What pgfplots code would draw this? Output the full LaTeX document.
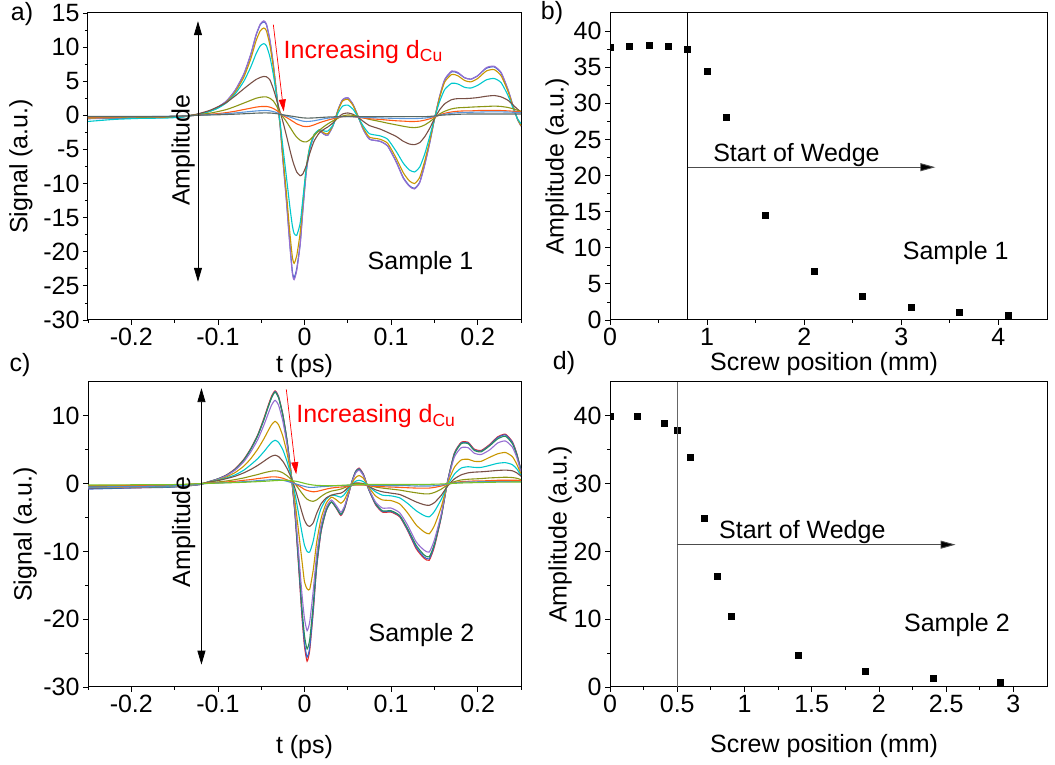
\documentclass[border=0pt]{standalone}
\usepackage{fontspec}
\setmainfont{Liberation Sans}
\setsansfont{Liberation Sans}
\usepackage{pgfplots}
\usepackage{pgfplotstable}
\pgfplotsset{compat=1.18}
\usetikzlibrary{arrows.meta}

\definecolor{cPu}{RGB}{150,110,210}
\definecolor{cBl}{RGB}{60,100,200}
\definecolor{cGo}{RGB}{200,150,0}
\definecolor{cCy}{RGB}{0,200,205}
\definecolor{cBr}{RGB}{120,80,70}
\definecolor{cOl}{RGB}{140,150,20}
\definecolor{cOr}{RGB}{255,90,20}
\definecolor{cLb}{RGB}{90,150,220}
\definecolor{cGr}{RGB}{90,105,100}
\definecolor{cRd}{RGB}{230,40,40}
\definecolor{cGn}{RGB}{40,140,90}
\definecolor{cYg}{RGB}{120,195,40}
\definecolor{cSt}{RGB}{80,140,210}

% ---------------- panel a data (sample 1 waveforms) ----------------
\pgfplotstableset{
 create on use/ta/.style={create col/set list={-0.25,-0.22,-0.19,-0.16,-0.14,-0.125,-0.11,-0.10,-0.09,-0.08,
  -0.07,-0.062,-0.056,-0.051,-0.047,-0.044,-0.040,-0.036,-0.032,-0.028,
  -0.025,-0.021,-0.017,-0.014,-0.012,-0.009,-0.005,-0.002,0.002,0.006,
  0.011,0.017,0.023,0.027,0.033,0.039,0.044,0.050,0.056,0.062,
  0.068,0.075,0.087,0.096,0.106,0.114,0.121,0.127,0.133,0.139,
  0.145,0.150,0.156,0.162,0.170,0.177,0.185,0.192,0.200,0.210,
  0.219,0.227,0.235,0.241,0.246,0.250}},
 create on use/apu/.style={create col/set list={-0.45,-0.4,-0.35,-0.3,-0.2,0.1,0.6,1.2,2.1,3.7,
  6.1,9.0,11.8,13.4,13.85,13.4,11.1,7.5,3.0,-1.8,
  -6.5,-12.4,-19.0,-23.2,-24.1,-22.8,-19.0,-14.2,-8.4,-5.0,
  -3.0,-2.3,-2.8,-2.9,-1.5,0.9,2.3,2.6,1.6,-0.2,
  -2.1,-3.5,-3.8,-4.5,-6.9,-9.2,-10.4,-10.8,-9.9,-7.2,
  -3.8,-0.6,2.8,5.3,6.5,6.3,5.5,5.3,5.8,7.0,
  7.2,6.3,3.8,1.3,-0.6,-1.6}},
 create on use/abl/.style={create col/set list={-0.5,-0.45,-0.4,-0.3,-0.2,0.1,0.6,1.2,2.1,3.65,
  6.0,8.9,11.7,13.3,13.7,13.3,11.0,7.4,3.0,-1.7,
  -6.4,-12.2,-18.7,-22.9,-23.8,-22.5,-18.8,-14.0,-8.3,-5.0,
  -3.0,-2.3,-2.8,-2.9,-1.5,0.9,2.3,2.55,1.6,-0.2,
  -2.1,-3.5,-3.8,-4.5,-6.8,-9.1,-10.3,-10.7,-9.8,-7.1,
  -3.8,-0.6,2.7,5.2,6.4,6.2,5.5,5.3,5.8,6.9,
  7.1,6.2,3.7,1.3,-0.6,-1.5}},
 create on use/ago/.style={create col/set list={-0.4,-0.35,-0.3,-0.3,-0.2,0.1,0.55,1.1,1.95,3.4,
  5.6,8.3,10.9,12.4,12.8,12.4,10.3,7.0,2.8,-1.6,
  -5.9,-11.2,-17.1,-20.8,-21.7,-20.6,-17.2,-12.9,-7.7,-4.6,
  -2.8,-2.2,-2.6,-2.7,-1.4,0.8,2.1,2.35,1.45,-0.2,
  -1.9,-3.2,-3.5,-4.1,-6.3,-8.4,-9.6,-10.0,-9.1,-6.6,
  -3.5,-0.55,2.6,4.9,6.0,5.8,5.1,4.9,5.4,6.5,
  6.7,5.8,3.5,1.2,-0.55,-1.5}},
 create on use/acy/.style={create col/set list={-0.9,-0.6,-0.45,-0.4,-0.25,0.1,0.55,1.05,1.85,3.15,
  5.0,7.1,9.0,10.2,10.5,10.2,8.6,6.0,2.6,-1.2,
  -4.6,-8.9,-13.3,-16.2,-17.3,-17.6,-15.8,-12.4,-7.8,-4.8,
  -2.9,-2.1,-2.3,-2.3,-1.4,0.4,1.35,1.5,0.9,-0.3,
  -1.6,-2.7,-3.0,-3.5,-5.3,-7.0,-8.0,-8.3,-7.6,-5.6,
  -2.9,-0.5,2.0,3.8,4.7,4.6,4.1,4.0,4.4,5.2,
  5.4,4.8,2.9,1.0,-0.5,-1.2}},
 create on use/abr/.style={create col/set list={-0.3,-0.3,-0.25,-0.2,-0.1,0.15,0.7,1.25,1.9,2.85,
  3.9,4.7,5.25,5.55,5.7,5.65,5.2,3.9,2.2,0.4,
  -0.9,-2.9,-5.0,-6.5,-7.3,-8.3,-8.85,-8.6,-7.4,-5.6,
  -3.8,-2.6,-2.0,-1.7,-1.1,-0.3,0.2,0.35,0.15,-0.3,
  -0.9,-1.5,-2.0,-2.5,-3.1,-3.8,-4.2,-4.3,-4.0,-3.1,
  -1.8,-0.5,0.8,1.7,2.3,2.45,2.45,2.5,2.6,2.8,
  2.9,2.7,2.2,1.5,0.9,0.5}},
 create on use/aol/.style={create col/set list={-0.3,-0.3,-0.25,-0.2,-0.1,0.05,0.3,0.55,0.85,1.3,
  1.8,2.2,2.5,2.65,2.7,2.7,2.5,2.1,1.3,0.3,
  -0.2,-0.9,-1.7,-2.3,-2.7,-3.2,-3.65,-3.85,-3.9,-3.6,
  -3.0,-2.2,-1.6,-1.25,-0.8,-0.4,-0.1,0.05,0.0,-0.15,
  -0.35,-0.6,-0.9,-1.15,-1.4,-1.6,-1.75,-1.8,-1.7,-1.4,
  -0.9,-0.4,0.2,0.6,0.95,1.1,1.15,1.2,1.25,1.3,
  1.35,1.3,1.15,0.95,0.75,0.6}},
 create on use/aor/.style={create col/set list={-0.25,-0.25,-0.2,-0.2,-0.1,0.0,0.15,0.25,0.4,0.6,
  0.85,1.05,1.2,1.28,1.3,1.3,1.2,1.0,0.7,0.3,
  0.0,-0.3,-0.6,-0.85,-1.0,-1.25,-1.45,-1.6,-1.65,-1.6,
  -1.4,-1.1,-0.85,-0.7,-0.5,-0.3,-0.2,-0.15,-0.2,-0.3,
  -0.4,-0.5,-0.6,-0.7,-0.8,-0.85,-0.9,-0.9,-0.85,-0.7,
  -0.5,-0.25,0.05,0.3,0.5,0.6,0.65,0.65,0.7,0.7,
  0.7,0.7,0.65,0.6,0.55,0.5}},
 create on use/alb/.style={create col/set list={-0.2,-0.2,-0.2,-0.15,-0.1,0.0,0.1,0.15,0.25,0.35,
  0.47,0.57,0.64,0.68,0.7,0.7,0.66,0.55,0.4,0.2,
  0.05,-0.1,-0.25,-0.38,-0.47,-0.6,-0.75,-0.85,-0.9,-0.88,
  -0.8,-0.65,-0.5,-0.42,-0.33,-0.25,-0.2,-0.2,-0.2,-0.25,
  -0.3,-0.33,-0.38,-0.42,-0.45,-0.47,-0.48,-0.48,-0.45,-0.4,
  -0.3,-0.15,0.0,0.15,0.3,0.38,0.42,0.45,0.47,0.5,
  0.5,0.5,0.48,0.45,0.42,0.4}},
 create on use/agr/.style={create col/set list={-0.15,-0.15,-0.15,-0.15,-0.1,0.0,0.05,0.08,0.12,0.17,
  0.23,0.28,0.32,0.34,0.35,0.35,0.34,0.3,0.24,0.15,
  0.08,0.0,-0.08,-0.14,-0.18,-0.24,-0.32,-0.37,-0.4,-0.4,
  -0.38,-0.33,-0.28,-0.25,-0.22,-0.2,-0.2,-0.2,-0.2,-0.2,
  -0.2,-0.2,-0.2,-0.2,-0.2,-0.2,-0.2,-0.2,-0.2,-0.2,
  -0.15,-0.1,0.0,0.05,0.1,0.15,0.18,0.2,0.2,0.2,
  0.2,0.2,0.2,0.2,0.2,0.2}},
}
\pgfplotstablenew[columns={ta,apu,abl,ago,acy,abr,aol,aor,alb,agr}]{66}\taba

% ---------------- panel c data (sample 2 waveforms) ----------------
\pgfplotstableset{
 create on use/tc/.style={create col/set list={-0.25,-0.22,-0.19,-0.16,-0.14,-0.12,-0.11,-0.10,-0.09,-0.08,
  -0.07,-0.062,-0.054,-0.047,-0.042,-0.038,-0.034,-0.030,-0.025,-0.020,
  -0.015,-0.011,-0.007,-0.003,0.000,0.003,0.006,0.010,0.014,0.019,
  0.025,0.031,0.037,0.042,0.046,0.050,0.055,0.059,0.063,0.068,
  0.074,0.082,0.090,0.100,0.110,0.119,0.129,0.138,0.144,0.150,
  0.158,0.165,0.173,0.181,0.189,0.196,0.204,0.214,0.223,0.232,
  0.240,0.245,0.250}},
 create on use/crd/.style={create col/set list={-0.7,-0.65,-0.6,-0.5,-0.4,-0.1,0.3,0.7,1.3,2.2,
  3.6,5.2,7.2,9.6,11.5,12.9,13.7,12.9,10.2,6.2,
  0.9,-4.5,-11.8,-19.5,-24.0,-26.2,-24.6,-19.0,-12.4,-7.2,
  -4.0,-2.7,-3.7,-4.7,-3.8,-2.0,0.4,1.8,2.3,1.4,
  -0.8,-3.1,-4.2,-4.2,-4.9,-6.9,-9.6,-11.0,-11.3,-9.3,
  -4.9,0.2,4.5,6.1,6.1,5.1,4.9,5.8,6.9,7.3,
  6.2,4.5,2.0}},
 create on use/cbu/.style={create col/set list={-0.8,-0.7,-0.6,-0.55,-0.4,-0.1,0.3,0.7,1.25,2.15,
  3.5,5.1,7.1,9.4,11.3,12.7,13.6,12.8,10.1,6.2,
  1.0,-4.3,-11.5,-19.0,-23.5,-25.6,-24.2,-18.8,-12.3,-7.1,
  -4.0,-2.7,-3.6,-4.6,-3.7,-1.9,0.4,1.8,2.2,1.35,
  -0.8,-3.0,-4.1,-4.1,-4.8,-6.8,-9.4,-10.8,-11.1,-9.1,
  -4.8,0.2,4.4,6.0,6.0,5.0,4.8,5.7,6.8,7.2,
  6.1,4.4,2.0}},
 create on use/cgn/.style={create col/set list={-0.6,-0.6,-0.55,-0.5,-0.35,-0.1,0.3,0.7,1.25,2.1,
  3.5,5.1,7.1,9.4,11.3,12.7,13.5,12.7,10.1,6.2,
  1.0,-4.1,-11.0,-18.2,-22.4,-24.4,-23.0,-17.9,-11.7,-6.9,
  -3.9,-2.7,-3.6,-4.5,-3.6,-1.9,0.4,1.7,2.1,1.3,
  -0.8,-2.9,-4.0,-4.0,-4.7,-6.6,-9.1,-10.5,-10.8,-8.9,
  -4.7,0.2,4.3,5.9,5.9,4.9,4.7,5.6,6.6,7.0,
  5.9,4.3,1.9}},
 create on use/cpu/.style={create col/set list={-0.6,-0.55,-0.5,-0.45,-0.35,-0.1,0.3,0.65,1.2,2.0,
  3.25,4.7,6.5,8.6,10.3,11.6,12.3,11.6,9.2,5.6,
  0.9,-3.7,-9.8,-16.2,-19.9,-21.7,-20.4,-15.9,-10.5,-6.2,
  -3.5,-2.4,-3.3,-4.2,-3.4,-1.8,0.3,1.55,2.0,1.2,
  -0.7,-2.7,-3.6,-3.6,-4.3,-6.1,-8.6,-9.8,-10.1,-8.3,
  -4.4,0.1,3.9,5.3,5.3,4.5,4.3,5.0,6.0,6.3,
  5.4,3.9,1.7}},
 create on use/cgo/.style={create col/set list={-0.5,-0.5,-0.45,-0.4,-0.3,-0.05,0.25,0.55,1.0,1.65,
  2.6,3.7,5.1,6.6,7.8,8.7,9.2,8.7,7.0,4.4,
  1.0,-2.6,-6.9,-11.3,-14.5,-15.5,-15.6,-12.8,-8.7,-5.2,
  -2.9,-2.0,-2.4,-2.9,-2.4,-1.3,0.1,0.9,1.2,0.8,
  -0.5,-1.8,-2.4,-2.5,-3.0,-4.3,-6.1,-7.1,-7.4,-6.2,
  -3.4,-0.1,2.4,3.5,3.6,3.3,3.3,3.9,4.4,4.6,
  4.0,2.9,1.4}},
 create on use/ccy/.style={create col/set list={-0.45,-0.4,-0.4,-0.35,-0.25,0.0,0.25,0.5,0.85,1.3,
  2.0,2.8,3.7,4.7,5.5,6.1,6.4,6.1,5.0,3.2,
  0.9,-1.5,-4.3,-7.2,-9.1,-10.0,-10.1,-8.5,-5.9,-3.7,
  -2.3,-1.7,-1.8,-2.0,-1.6,-0.9,-0.1,0.35,0.5,0.3,
  -0.4,-1.2,-1.7,-1.8,-2.1,-2.9,-4.0,-4.7,-4.9,-4.1,
  -2.3,-0.3,1.4,2.3,2.5,2.4,2.4,2.7,3.0,3.1,
  2.8,2.2,1.2}},
 create on use/cbr/.style={create col/set list={-0.4,-0.4,-0.35,-0.3,-0.2,0.0,0.25,0.45,0.75,1.1,
  1.6,2.1,2.7,3.3,3.75,4.05,4.2,4.0,3.3,2.2,
  0.8,-0.7,-2.4,-4.2,-5.4,-6.1,-6.3,-5.8,-4.4,-3.0,
  -2.1,-1.7,-1.5,-1.4,-1.1,-0.6,-0.1,0.1,0.1,0.0,
  -0.4,-0.9,-1.2,-1.4,-1.6,-2.1,-2.7,-3.1,-3.2,-2.8,
  -1.7,-0.4,0.7,1.3,1.6,1.7,1.75,1.85,1.95,2.0,
  1.9,1.6,1.1}},
 create on use/col/.style={create col/set list={-0.3,-0.3,-0.25,-0.25,-0.15,0.0,0.15,0.25,0.4,0.6,
  0.85,1.1,1.35,1.6,1.75,1.85,1.9,1.85,1.6,1.15,
  0.6,0.0,-0.7,-1.4,-1.9,-2.3,-2.5,-2.6,-2.4,-1.9,
  -1.4,-1.1,-0.95,-0.8,-0.6,-0.4,-0.15,0.0,0.0,-0.05,
  -0.25,-0.5,-0.65,-0.8,-0.95,-1.15,-1.35,-1.5,-1.5,-1.3,
  -0.8,-0.2,0.3,0.55,0.65,0.7,0.75,0.85,0.9,0.95,
  0.9,0.8,0.6}},
 create on use/cor/.style={create col/set list={-0.3,-0.25,-0.25,-0.2,-0.15,0.0,0.1,0.15,0.25,0.35,
  0.5,0.6,0.75,0.85,0.95,1.0,1.0,0.95,0.8,0.55,
  0.25,0.0,-0.3,-0.6,-0.85,-1.0,-1.1,-1.2,-1.15,-1.0,
  -0.8,-0.65,-0.55,-0.5,-0.45,-0.35,-0.25,-0.2,-0.2,-0.2,
  -0.3,-0.4,-0.45,-0.5,-0.55,-0.6,-0.65,-0.65,-0.65,-0.55,
  -0.35,-0.1,0.15,0.3,0.35,0.4,0.4,0.45,0.5,0.5,
  0.5,0.5,0.45}},
 create on use/cst/.style={create col/set list={-0.5,-0.45,-0.4,-0.35,-0.25,-0.05,0.05,0.1,0.15,0.2,
  0.3,0.35,0.45,0.5,0.55,0.6,0.6,0.6,0.5,0.35,
  0.15,0.0,-0.15,-0.3,-0.4,-0.5,-0.55,-0.55,-0.5,-0.45,
  -0.4,-0.35,-0.3,-0.3,-0.3,-0.25,-0.2,-0.15,-0.15,-0.15,
  -0.2,-0.25,-0.25,-0.3,-0.3,-0.3,-0.35,-0.35,-0.35,-0.3,
  -0.2,-0.05,0.1,0.2,0.25,0.25,0.3,0.3,0.3,0.3,
  0.3,0.3,0.3}},
 create on use/cyg/.style={create col/set list={-0.2,-0.2,-0.15,-0.15,-0.1,0.0,0.05,0.08,0.12,0.16,
  0.2,0.25,0.3,0.35,0.38,0.42,0.45,0.48,0.5,0.5,
  0.45,0.38,0.28,0.15,0.05,-0.05,-0.12,-0.2,-0.25,-0.28,
  -0.3,-0.3,-0.28,-0.25,-0.22,-0.2,-0.18,-0.15,-0.13,-0.12,
  -0.12,-0.12,-0.12,-0.12,-0.12,-0.12,-0.12,-0.12,-0.1,-0.08,
  -0.05,0.0,0.05,0.1,0.12,0.15,0.17,0.2,0.22,0.23,
  0.24,0.25,0.25}},
}
\pgfplotstablenew[columns={tc,crd,cbu,cgn,cpu,cgo,ccy,cbr,col,cor,cst,cyg}]{63}\tabc

% ---------------- amplitude vs screw position ----------------
\pgfplotstableread{
x y
0   37.7
0.2 37.97
0.4 38.0
0.6 37.9
0.8 37.55
1.0 34.46
1.2 28.14
1.6 14.53
2.1 6.69
2.6 3.28
3.1 1.75
3.6 1.06
4.1 0.65
}\tabb
\pgfplotstableread{
x y
0   40.0
0.2 39.9
0.4 38.9
0.5 37.85
0.6 33.9
0.7 24.9
0.8 16.4
0.9 10.46
1.4 4.65
1.9 2.4
2.4 1.27
2.9 0.78
}\tabd

\newcommand{\bigf}{\fontsize{25}{30}\selectfont}

\pgfplotsset{
 myax/.style={
  scale only axis, anchor=south west,
  axis line style={line width=1pt, black},
  tick align=outside, xtick pos=bottom, ytick pos=left,
  major tick length=5pt, minor tick length=3pt,
  every tick/.style={line width=0.8pt, black},
  tick label style={font=\bigf},
  label style={font=\bigf},
  /pgf/number format/assume math mode=true,
  clip marker paths=true,
 },
 wave/.style={no marks, line width=1.1pt, smooth, tension=0.35},
}

\begin{document}
\begin{tikzpicture}[x=1pt,y=1pt]
\path[use as bounding box] (0,0) rectangle (1055,765);

% ===== a) =====
\begin{axis}[myax, at={(88pt,445pt)}, width=433pt, height=307pt,
  xmin=-0.25, xmax=0.25, ymin=-30, ymax=15,
  xtick={-0.2,-0.1,0,0.1,0.2}, minor xtick={-0.25,-0.15,-0.05,0.05,0.15,0.25},
  ytick={-30,-25,...,15}, minor y tick num=1,
  xlabel={t (ps)}, ylabel={Signal (a.u.)},
  xlabel style={at={(axis description cs:0.5,-0.15)}, anchor=center},
  ylabel style={at={(axis description cs:-0.155,0.5)}, anchor=center},
]
\addplot[wave, cBl] table[x=ta,y=abl]{\taba};
\addplot[wave, cPu] table[x=ta,y=apu]{\taba};
\addplot[wave, cGo] table[x=ta,y=ago]{\taba};
\addplot[wave, cCy] table[x=ta,y=acy]{\taba};
\addplot[wave, cBr] table[x=ta,y=abr]{\taba};
\addplot[wave, cOl] table[x=ta,y=aol]{\taba};
\addplot[wave, cOr] table[x=ta,y=aor]{\taba};
\addplot[wave, cLb] table[x=ta,y=alb]{\taba};
\addplot[wave, cGr] table[x=ta,y=agr]{\taba};
\draw[line width=0.8pt, {Triangle[length=14pt,width=8pt]}-{Triangle[length=14pt,width=8pt]}] (axis cs:-0.123,13.8) -- (axis cs:-0.123,-24.4);
\node[rotate=90, font=\bigf] at (axis cs:-0.140,-5.1) {Amplitude};
\draw[red, line width=0.7pt, -{Triangle[length=12pt,width=7pt]}] (axis cs:-0.036,13.3) -- (axis cs:-0.024,0.57);
\node[red, font=\bigf, anchor=base west, inner sep=0pt] at (axis cs:-0.0242,8.4) {Increasing d\textsubscript{Cu}};
\node[font=\bigf] at (axis cs:0.134,-21.7) {Sample 1};
\end{axis}

% ===== b) =====
\begin{axis}[myax, at={(610pt,445pt)}, width=437pt, height=307pt,
  xmin=0, xmax=4.5, ymin=0, ymax=42.5,
  xtick={0,1,2,3,4}, minor x tick num=1,
  ytick={0,5,...,40}, minor y tick num=1,
  xlabel={Screw position (mm)}, ylabel={Amplitude (a.u.)},
  xlabel style={at={(axis description cs:0.49,-0.142)}, anchor=center},
  ylabel style={at={(axis description cs:-0.121,0.5)}, anchor=center},
]
\addplot[only marks, mark=square*, mark size=3pt, black] table[x=x,y=y]{\tabb};
\draw[line width=0.9pt] (axis cs:0.8,0) -- (axis cs:0.8,42.5);
\draw[line width=0.9pt, black!70, -{Triangle[length=15pt,width=8pt, fill=black]}] (axis cs:0.8,21.15) -- (axis cs:3.35,21.15);
\node[font=\bigf] at (axis cs:1.92,22.9) {Start of Wedge};
\node[font=\bigf] at (axis cs:3.56,9.3) {Sample 1};
\end{axis}

% ===== c) =====
\begin{axis}[myax, at={(88pt,78pt)}, width=433pt, height=305pt,
  xmin=-0.25, xmax=0.25, ymin=-30, ymax=15,
  xtick={-0.2,-0.1,0,0.1,0.2}, minor xtick={-0.25,-0.15,-0.05,0.05,0.15,0.25},
  ytick={-30,-20,...,10}, minor y tick num=1,
  xlabel={t (ps)}, ylabel={Signal (a.u.)},
  xlabel style={at={(axis description cs:0.5,-0.197)}, anchor=center},
  ylabel style={at={(axis description cs:-0.145,0.5)}, anchor=center},
]
\addplot[wave, cRd] table[x=tc,y=crd]{\tabc};
\addplot[wave, cBl] table[x=tc,y=cbu]{\tabc};
\addplot[wave, cGn] table[x=tc,y=cgn]{\tabc};
\addplot[wave, cPu] table[x=tc,y=cpu]{\tabc};
\addplot[wave, cGo] table[x=tc,y=cgo]{\tabc};
\addplot[wave, cCy] table[x=tc,y=ccy]{\tabc};
\addplot[wave, cBr] table[x=tc,y=cbr]{\tabc};
\addplot[wave, cOl] table[x=tc,y=col]{\tabc};
\addplot[wave, cOr] table[x=tc,y=cor]{\tabc};
\addplot[wave, cSt] table[x=tc,y=cst]{\tabc};
\addplot[wave, cYg] table[x=tc,y=cyg]{\tabc};
\draw[line width=0.8pt, {Triangle[length=14pt,width=8pt]}-{Triangle[length=14pt,width=8pt]}] (axis cs:-0.119,14.1) -- (axis cs:-0.119,-26.7);
\node[rotate=90, font=\bigf] at (axis cs:-0.1396,-7.1) {Amplitude};
\draw[red, line width=0.7pt, -{Triangle[length=12pt,width=7pt]}] (axis cs:-0.021,13.9) -- (axis cs:-0.0096,1.4);
\node[red, font=\bigf, anchor=base west, inner sep=0pt] at (axis cs:-0.0096,9.0) {Increasing d\textsubscript{Cu}};
\node[font=\bigf] at (axis cs:0.135,-22.3) {Sample 2};
\end{axis}

% ===== d) =====
\begin{axis}[myax, at={(610pt,78pt)}, width=437pt, height=305pt,
  xmin=0, xmax=3.25, ymin=0, ymax=45,
  xtick={0,0.5,...,3}, minor x tick num=1,
  ytick={0,10,...,40}, minor y tick num=1,
  xlabel={Screw position (mm)}, ylabel={Amplitude (a.u.)},
  xlabel style={at={(axis description cs:0.49,-0.193)}, anchor=center},
  ylabel style={at={(axis description cs:-0.114,0.5)}, anchor=center},
]
\addplot[only marks, mark=square*, mark size=3pt, black] table[x=x,y=y]{\tabd};
\draw[line width=0.9pt, black!60] (axis cs:0.5,0) -- (axis cs:0.5,45);
\draw[line width=0.9pt, black!70, -{Triangle[length=15pt,width=8pt, fill=black]}] (axis cs:0.5,21.0) -- (axis cs:2.57,21.0);
\node[font=\bigf] at (axis cs:1.43,22.8) {Start of Wedge};
\node[font=\bigf] at (axis cs:2.58,9.2) {Sample 2};
\end{axis}

\node[font=\bigf] at (22,751) {a)};
\node[font=\bigf] at (552,752) {b)};
\node[font=\bigf] at (20,400) {c)};
\node[font=\bigf] at (564,402) {d)};
\end{tikzpicture}
\end{document}
